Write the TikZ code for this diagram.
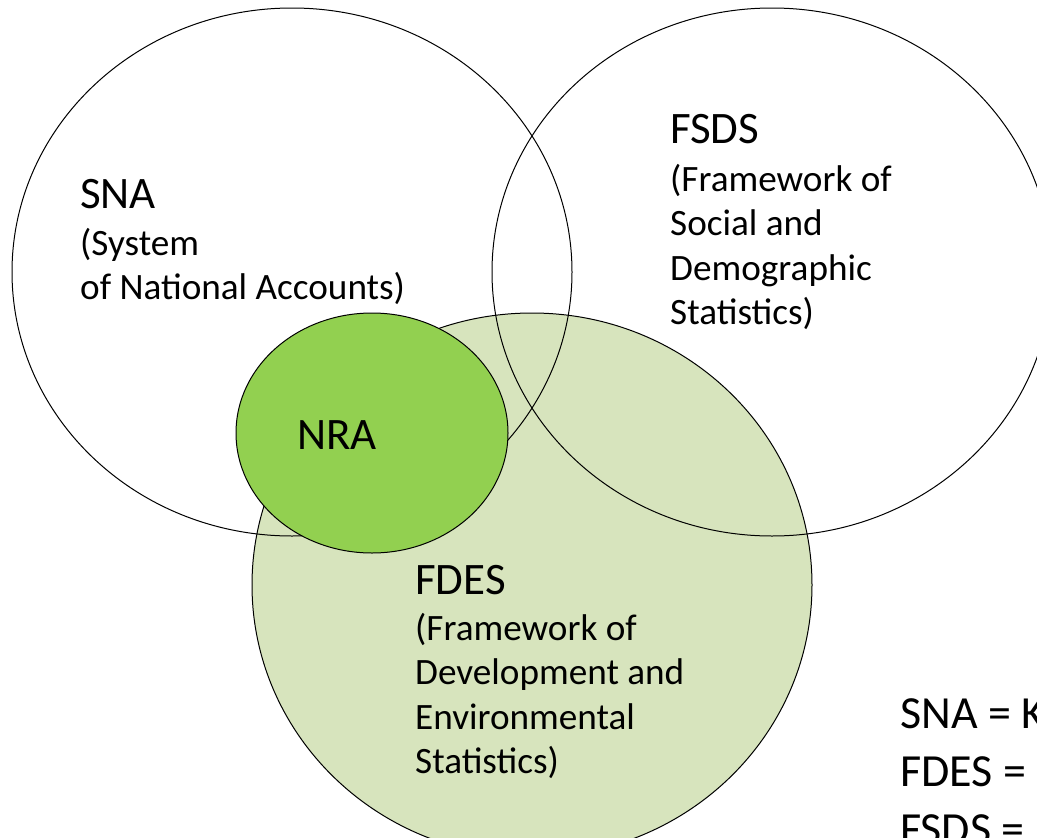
\documentclass[tikz,border=0pt]{standalone}
\usepackage{fontspec}
\setmainfont{Carlito}
\definecolor{fdesfill}{HTML}{D7E4BD}
\definecolor{nrafill}{HTML}{92D050}
\begin{document}
\begin{tikzpicture}[x=1pt,y=-1pt,
  venn/.style={draw=black, line width=1pt},
  head/.style={anchor=base west, inner sep=0pt, font=\fontsize{45}{54}\selectfont},
  desc/.style={anchor=base west, inner sep=0pt, font=\fontsize{37.2}{44.5}\selectfont},
  legend/.style={anchor=base west, inner sep=0pt, font=\fontsize{46}{58}\selectfont}
]
\useasboundingbox (0,0) rectangle (1037,838);
\clip (0,0) rectangle (1037,838);
% circles
\draw[venn, fill=fdesfill] (532,585) ellipse [x radius=280pt, y radius=272pt];
\draw[venn] (292,272) ellipse [x radius=280pt, y radius=264pt];
\draw[venn] (772,272) ellipse [x radius=280pt, y radius=264pt];
\draw[venn, fill=nrafill] (372,433) ellipse [x radius=136pt, y radius=120pt];
% labels
\node[head] (snaH) at (80,208) {SNA};
\node[desc] (snaD) at (80,255) {\parbox[t]{400pt}{(System\\of National Accounts)}};
\node[head] (fsdsH) at (670,143) {FSDS};
\node[desc] (fsdsD) at (670,191) {\parbox[t]{400pt}{(Framework of\\Social and\\Demographic\\Statistics)}};
\node[head] (nraH) at (297,449) {NRA};
\node[head] (fdesH) at (415,594) {FDES};
\node[desc] (fdesD) at (415,640) {\parbox[t]{400pt}{(Framework of\\Development and\\Environmental\\Statistics)}};
\node[legend] (leg) at (900,728) {\parbox[t]{400pt}{SNA = K\\FDES =\\FSDS =}};
\end{tikzpicture}
\end{document}
